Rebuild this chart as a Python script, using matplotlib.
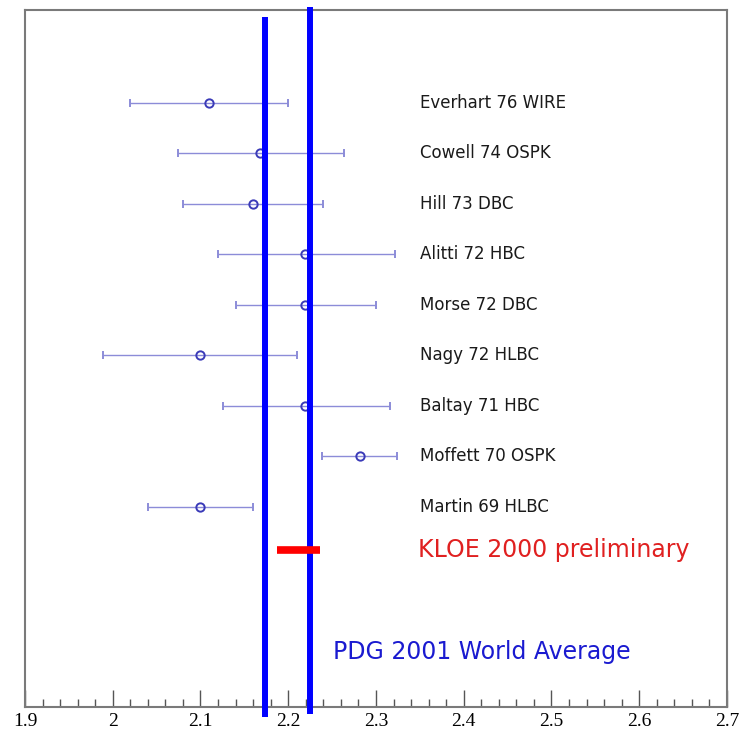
import matplotlib
matplotlib.use("Agg")
import matplotlib.pyplot as plt
import numpy as np
from matplotlib.ticker import MultipleLocator

# measurements (top to bottom)
labels = ["Everhart 76 WIRE", "Cowell 74 OSPK", "Hill 73 DBC", "Alitti 72 HBC",
          "Morse 72 DBC", "Nagy 72 HLBC", "Baltay 71 HBC", "Moffett 70 OSPK",
          "Martin 69 HLBC"]
values = [2.110, 2.168, 2.160, 2.219, 2.219, 2.099, 2.219, 2.282, 2.100]
err_lo = [0.090, 0.094, 0.080, 0.099, 0.079, 0.110, 0.093, 0.044, 0.060]
err_hi = [0.090, 0.096, 0.080, 0.103, 0.081, 0.111, 0.097, 0.042, 0.060]

kloe_value = 2.2115
kloe_err = 0.0245
pdg_band = [2.1735, 2.225]

rows = np.arange(len(labels))
kloe_row = 8.85
pdg_row = 10.87

fig = plt.figure(figsize=(7.44, 7.36), dpi=100)
ax = fig.add_axes([0.0336, 0.0394, 0.9435, 0.947])

# PDG world average band edges
ax.plot([pdg_band[0], pdg_band[0]], [-1.7, 12.15], color="#0000ff", lw=4.3,
        solid_capstyle="butt", clip_on=False, zorder=3)
ax.plot([pdg_band[1], pdg_band[1]], [-1.9, 12.1], color="#0000ff", lw=4.3,
        solid_capstyle="butt", clip_on=False, zorder=3)

ax.errorbar(values, rows, xerr=[err_lo, err_hi], fmt="o", color="#8c8cd8",
            ecolor="#8c8cd8", elinewidth=1.0, capsize=3, capthick=1.0,
            mfc="none", mec="#3a3ab8", mew=1.4, ms=6, zorder=2)

for r, lab in zip(rows, labels):
    ax.text(2.350, r, lab, fontsize=12, color="#1a1a1a", ha="left",
            va="center", family="DejaVu Sans")

ax.plot([kloe_value - kloe_err, kloe_value + kloe_err], [kloe_row, kloe_row],
        color="#ff0000", lw=5.5, solid_capstyle="butt", zorder=4)
ax.text(2.348, kloe_row, "KLOE 2000 preliminary", fontsize=17, color="#e02020",
        ha="left", va="center", family="DejaVu Sans")
ax.text(2.251, pdg_row, "PDG 2001 World Average", fontsize=17, color="#1a1ad0",
        ha="left", va="center", family="DejaVu Sans")

ax.set_xlim(1.9, 2.7)
ax.set_ylim(11.96, -1.84)
ax.xaxis.set_major_locator(MultipleLocator(0.1))
ax.xaxis.set_minor_locator(MultipleLocator(0.02))
ax.set_xticks(np.arange(1.9, 2.71, 0.1))
ax.set_xticklabels(["1.9", "2", "2.1", "2.2", "2.3", "2.4", "2.5", "2.6", "2.7"],
                   family="Liberation Serif", fontsize=14)
ax.tick_params(axis="x", which="major", direction="in", length=12, width=1,
               color="#555555", pad=4)
ax.tick_params(axis="x", which="minor", direction="in", length=6, width=1,
               color="#555555")
ax.tick_params(axis="y", left=False, labelleft=False)
for s in ax.spines.values():
    s.set_color("#7a7a7a")
    s.set_linewidth(1.5)

fig.savefig("out.png", dpi=100)
